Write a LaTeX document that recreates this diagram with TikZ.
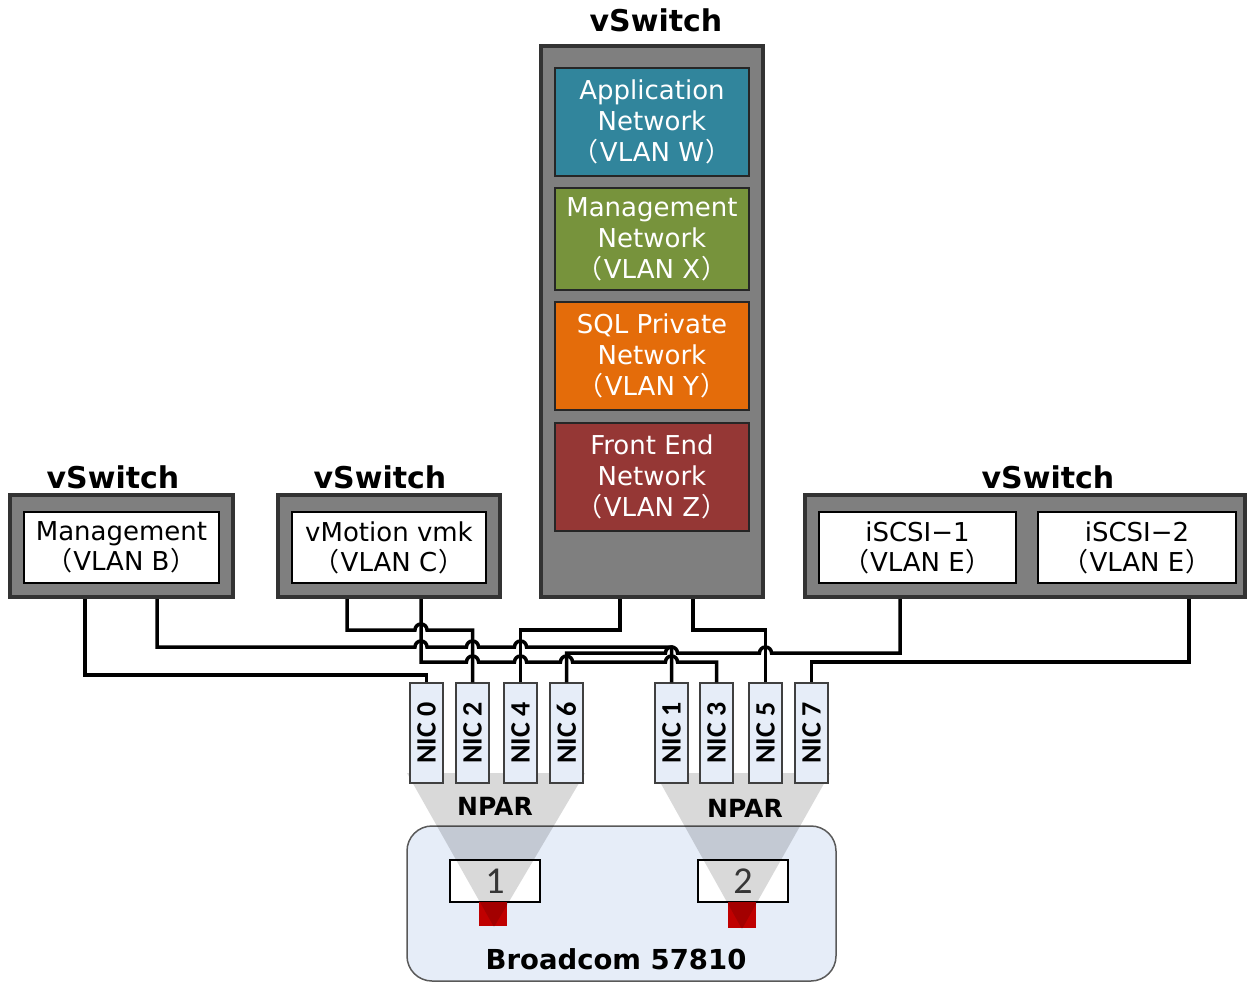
\documentclass[tikz,border=0pt]{standalone}
\usepackage{fontspec}
\setmainfont{DejaVu Sans}
\newfontfamily\jpf{Noto Sans CJK JP}
\newfontfamily\calf{Carlito}
\newcommand\fwl{{\jpf （}\kern1bp}
\newcommand\fwr{\kern1bp{\jpf ）}}
\definecolor{swfill}{HTML}{7F7F7F}
\definecolor{swdraw}{HTML}{333333}
\definecolor{appc}{HTML}{31859C}
\definecolor{mgmc}{HTML}{77933C}
\definecolor{sqlc}{HTML}{E46C0A}
\definecolor{fec}{HTML}{953735}
\definecolor{vdraw}{HTML}{262626}
\definecolor{nicfill}{HTML}{E6EDF8}
\definecolor{nicdraw}{HTML}{404040}
\definecolor{boardf}{HTML}{E6EDF8}
\definecolor{boardd}{HTML}{595959}
\definecolor{portred}{HTML}{C00000}
\definecolor{numc}{HTML}{404040}
\begin{document}
\begin{tikzpicture}[x=1bp,y=-1bp,
  wire/.style={line width=3.5bp, draw=black},
  swbox/.style={draw=swdraw, fill=swfill, line width=3.5bp, inner sep=0pt},
  vlan/.style={draw=vdraw, line width=2.5bp, inner sep=0pt, text=white, align=center,
    font=\fontsize{26bp}{31bp}\selectfont, minimum width=194bp},
  wbox/.style={draw=black, fill=white, line width=2.5bp, inner sep=0pt, align=center,
    text=black, font=\fontsize{26bp}{30bp}\selectfont, minimum height=71bp},
  nicbox/.style={draw=nicdraw, fill=nicfill, line width=1.5bp, minimum width=33bp,
    minimum height=100bp, inner sep=0pt, font=\calf\bfseries\fontsize{28bp}{28bp}\selectfont},
  swtitle/.style={font=\bfseries\fontsize{30bp}{30bp}\selectfont, anchor=base, inner sep=0pt},
  npar/.style={font=\bfseries\fontsize{25bp}{25bp}\selectfont, inner sep=0pt},
  portbox/.style={draw=black, fill=white, line width=1.5bp, minimum width=90bp, minimum height=42bp,
    inner sep=0pt, text=numc, font=\calf\fontsize{38bp}{38bp}\selectfont},
  redsq/.style={fill=portred, minimum width=28bp, minimum height=24bp, inner sep=0pt},
  shade/.style={fill=black, fill opacity=0.15},
]
\useasboundingbox (0,0) rectangle (1248,983);

% board
\node[draw=boardd, fill=boardf, line width=1.5bp, rounded corners=25bp, minimum width=429bp,
  minimum height=155bp, inner sep=0pt] (board) at (621.5,903.5) {};
\node[portbox] (port1) at (495,881) {1};
\node[portbox] (port2) at (743,881) {2};
\node[redsq] (red1) at (493,914) {};
\node[redsq, minimum height=26bp] (red2) at (742,915) {};
\fill[shade] (407,773) -- (585,773) -- (494,927) -- cycle;
\fill[shade] (655,773) -- (830,773) -- (742,929) -- cycle;
\node[npar] (npar1) at (495,806) {NPAR};
\node[npar] (npar2) at (745,808) {NPAR};
\node[font=\bfseries\fontsize{27.5bp}{27.5bp}\selectfont, inner sep=0pt] (bcm) at (616,959) {Broadcom 57810};

% wire sources
\coordinate (m1) at (85,597);
\coordinate (m2) at (157,597);
\coordinate (v1) at (347,597);
\coordinate (v2) at (421,597);
\coordinate (c1) at (620,597);
\coordinate (c2) at (693,597);
\coordinate (i1) at (900,597);
\coordinate (i2) at (1189,597);

% NICs
\node[nicbox] (nic0) at (426.5,733) {\rotatebox{90}{NIC 0}};
\node[nicbox] (nic2) at (472.5,733) {\rotatebox{90}{NIC 2}};
\node[nicbox] (nic4) at (520.5,733) {\rotatebox{90}{NIC 4}};
\node[nicbox] (nic6) at (566.5,733) {\rotatebox{90}{NIC 6}};
\node[nicbox] (nic1) at (671.5,733) {\rotatebox{90}{NIC 1}};
\node[nicbox] (nic3) at (716.5,733) {\rotatebox{90}{NIC 3}};
\node[nicbox] (nic5) at (765.5,733) {\rotatebox{90}{NIC 5}};
\node[nicbox] (nic7) at (811.5,733) {\rotatebox{90}{NIC 7}};

% wires
\draw[wire] (m1) -- (85,675) -- (426.5,675) -- (nic0.north);
\draw[wire] (m2) -- (157,647) -- (415,647) arc[start angle=180,end angle=0,radius=6bp]
  -- (466.5,647) arc[start angle=180,end angle=0,radius=6bp]
  -- (514.5,647) arc[start angle=180,end angle=0,radius=6bp]
  -- (671.5,647) -- (nic1.north);
\draw[wire] (v1) -- (347,630) -- (415,630) arc[start angle=180,end angle=0,radius=6bp]
  -- (472.5,630) -- (nic2.north);
\draw[wire] (v2) -- (421,662) -- (466.5,662) arc[start angle=180,end angle=0,radius=6bp]
  -- (514.5,662) arc[start angle=180,end angle=0,radius=6bp]
  -- (560.5,662) arc[start angle=180,end angle=0,radius=6bp]
  -- (665.5,662) arc[start angle=180,end angle=0,radius=6bp]
  -- (716.5,662) -- (nic3.north);
\draw[wire] (c1) -- (620,630) -- (520.5,630) -- (nic4.north);
\draw[wire] (c2) -- (693,630) -- (765.5,630) -- (nic5.north);
\draw[wire] (i1) -- (900,653) -- (771.5,653) arc[start angle=0,end angle=180,radius=6bp]
  -- (677.5,653) arc[start angle=0,end angle=180,radius=6bp]
  -- (566.5,653) -- (nic6.north);
\draw[wire] (i2) -- (1189,662) -- (811.5,662) -- (nic7.north);

% central vSwitch
\node[swtitle] (tc) at (656,31) {vSwitch};
\node[swbox, minimum width=222bp, minimum height=551bp] (swc) at (652,321.5) {};
\node[vlan, fill=appc, minimum height=108bp] (app) at (652,122) {Application\\Network\\\fwl VLAN W\fwr};
\node[vlan, fill=mgmc, minimum height=102bp] (mgn) at (652,239) {Management\\Network\\\fwl VLAN X\fwr};
\node[vlan, fill=sqlc, minimum height=108bp] (sql) at (652,356) {SQL Private\\Network\\\fwl VLAN Y\fwr};
\node[vlan, fill=fec, minimum height=108bp] (fe) at (652,477) {Front End\\Network\\\fwl VLAN Z\fwr};

% left vSwitch
\node[swtitle] (tl) at (113,488) {vSwitch};
\node[swbox, minimum width=223bp, minimum height=102bp] (swl) at (121.5,546) {};
\node[wbox, minimum width=195bp] (mg) at (121.5,547.5) {Management\\\fwl VLAN B\fwr};

% vMotion vSwitch
\node[swtitle] (tv) at (380,488) {vSwitch};
\node[swbox, minimum width=222bp, minimum height=102bp] (swv) at (389,546) {};
\node[wbox, minimum width=194bp] (vm) at (389,547.5) {vMotion vmk\\\fwl VLAN C\fwr};

% iSCSI vSwitch
\node[swtitle] (ti) at (1048,488) {vSwitch};
\node[swbox, minimum width=440bp, minimum height=102bp] (swi) at (1025,546) {};
\node[wbox, minimum width=197bp] (is1) at (917.5,547.5) {iSCSI−1\\\fwl VLAN E\fwr};
\node[wbox, minimum width=198bp] (is2) at (1137,547.5) {iSCSI−2\\\fwl VLAN E\fwr};
\end{tikzpicture}
\end{document}
